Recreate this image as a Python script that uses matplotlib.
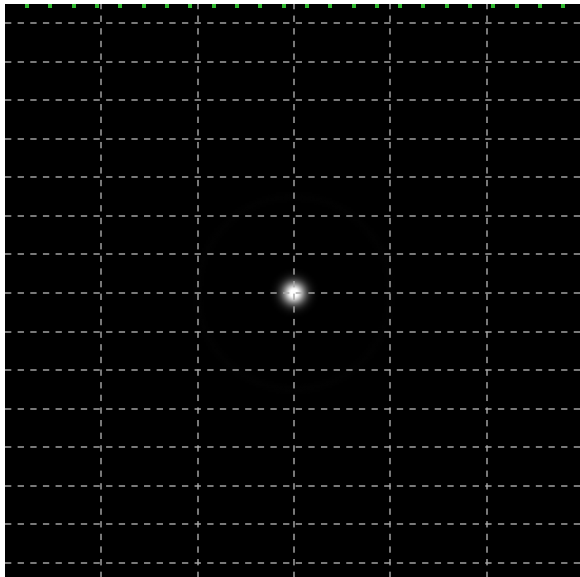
import numpy as np
import matplotlib.pyplot as plt

# image size in pixels and the spot / ring seen in the picture
n_pix = 300
spot_center = (150.0, 150.0)
spot_sigma = 4.0
spot_peak = 1.15
ring_radius = 50.0
ring_width = 2.5
ring_peak = 0.01

# grid and marker positions (data units)
x_grid = [50, 100, 150, 200, 250]
y_grid = [10, 30, 50, 70, 90, 110, 130, 150, 170, 190, 210, 230, 250, 270, 290]
marker_x = list(np.arange(11.5, 300, 12.1))

yy, xx = np.mgrid[0:n_pix, 0:n_pix] + 0.5
r = np.hypot(xx - spot_center[0], yy - spot_center[1])
img = spot_peak * np.exp(-r**2 / (2 * spot_sigma**2))
img += ring_peak * np.exp(-(r - ring_radius)**2 / (2 * ring_width**2))
img = np.clip(img, 0, 1)

fig = plt.figure(figsize=(5.8, 5.77), dpi=100, facecolor='white')
ax = fig.add_axes([5/580, -6/577, 578/580, 580/577])
ax.imshow(img, cmap='gray', vmin=0, vmax=1, extent=(0, n_pix, n_pix, 0),
          interpolation='bilinear')

ax.set_xticks(x_grid)
ax.set_yticks(y_grid)
ax.grid(True, color='#a8a8a8', linestyle=(0, (3.5, 3.5)), linewidth=1.3, alpha=0.8)
ax.tick_params(length=0, labelbottom=False, labelleft=False)
for s in ax.spines.values():
    s.set_visible(False)

ax.plot(marker_x, [1.0] * len(marker_x), 's', color='#33bb33', markersize=2.6,
        markeredgewidth=0, linestyle='none', clip_on=True)
ax.set_xlim(0, n_pix)
ax.set_ylim(n_pix, 0)

fig.savefig('out.png', dpi=100, facecolor='white')
